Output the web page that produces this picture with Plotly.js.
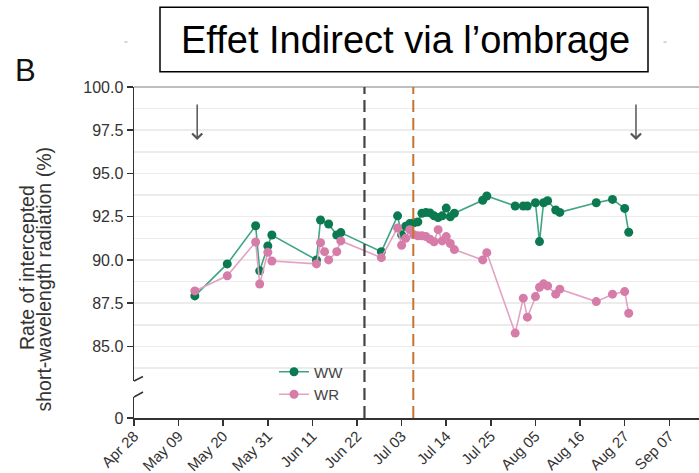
<!DOCTYPE html>
<html><head><meta charset="utf-8">
<script src="https://cdn.plot.ly/plotly-3.0.1.min.js"></script>
<style>html,body{margin:0;padding:0;background:#fff}#chart{width:699px;height:473px}</style>
</head><body><div id="chart"></div>
<script>
// ---- data ----
const datesWW = ['2021-05-13','2021-05-21','2021-05-28','2021-05-29','2021-05-31','2021-06-01',
  '2021-06-12','2021-06-13','2021-06-15','2021-06-17','2021-06-18','2021-06-28',
  '2021-07-02','2021-07-03','2021-07-04','2021-07-05','2021-07-06','2021-07-07','2021-07-08',
  '2021-07-09','2021-07-10','2021-07-11','2021-07-12','2021-07-13','2021-07-14','2021-07-15','2021-07-16',
  '2021-07-23','2021-07-24','2021-07-31','2021-08-02','2021-08-03','2021-08-05','2021-08-06',
  '2021-08-07','2021-08-08','2021-08-10','2021-08-11','2021-08-20','2021-08-24','2021-08-27','2021-08-28'];
const valuesWW = [87.92,89.77,91.98,89.37,90.81,91.44,
  90.00,92.31,92.08,91.44,91.58,90.48,
  92.55,91.45,91.95,92.10,92.15,92.20,92.70,
  92.75,92.72,92.55,92.45,92.55,93.00,92.50,92.70,
  93.45,93.70,93.12,93.12,93.12,93.31,91.06,
  93.31,93.42,92.89,92.75,93.31,93.50,92.98,91.60];
const datesWR = ['2021-05-13','2021-05-21','2021-05-28','2021-05-29','2021-05-31','2021-06-01',
  '2021-06-12','2021-06-13','2021-06-14','2021-06-15','2021-06-17','2021-06-18','2021-06-28',
  '2021-07-02','2021-07-03','2021-07-04','2021-07-05','2021-07-06','2021-07-07','2021-07-08',
  '2021-07-09','2021-07-10','2021-07-11','2021-07-12','2021-07-13','2021-07-14','2021-07-15','2021-07-16',
  '2021-07-23','2021-07-24','2021-07-31','2021-08-02','2021-08-03','2021-08-05','2021-08-06',
  '2021-08-07','2021-08-08','2021-08-10','2021-08-11','2021-08-20','2021-08-24','2021-08-27','2021-08-28'];
const valuesWR = [88.21,89.08,91.04,88.61,90.44,89.94,
  89.77,91.00,90.48,90.00,90.48,91.10,90.13,
  91.85,90.85,91.25,91.75,91.45,91.40,91.40,
  91.35,91.20,91.05,91.75,91.10,91.35,90.95,90.60,
  90.00,90.42,85.77,87.79,86.69,87.88,88.42,
  88.62,88.50,88.02,88.31,87.59,88.02,88.17,86.92];
const seriesNames = ['WW','WR'];
const eventDates = ['2021-06-23 20:00','2021-07-05 21:00'];
const arrowDates = ['2021-05-13 14:00','2021-08-29 19:00'];
const xRange = ['2021-04-28','2021-09-14 08:00'];
const yRangeUpper = [83.0, 100];
const yRangeLower = [0, 1];
const titleText = 'Effet Indirect via l’ombrage';
const panelLabel = 'B';
const yTitleLines = ['Rate of intercepted','short-wavelength radiation (%)'];

// ---- geometry helpers ----
const W=699,H=473,L=134,R=0,T=87,B=55;
const pw=W-L-R, ph=H-T-B;
const px = x => (x-L)/pw;
const py = y => (H-B-y)/ph;

const FONT = 'Liberation Sans, Arial, Helvetica, sans-serif';
const greenM='#0b7a50', greenL='#3da585', pinkM='#d67ca8', pinkL='#e3a1c3';

const traces = [
  {x:datesWW, y:valuesWW, name:seriesNames[0], type:'scatter', mode:'lines+markers',
   line:{color:greenL,width:1.6}, marker:{color:greenM,size:9}},
  {x:datesWR, y:valuesWR, name:seriesNames[1], type:'scatter', mode:'lines+markers',
   line:{color:pinkL,width:1.6}, marker:{color:pinkM,size:9}},
  // invisible carrier so the lower (broken) axis segment is drawn
  {x:[xRange[0]], y:[yRangeLower[0]], xaxis:'x', yaxis:'y2', type:'scatter', mode:'markers',
   marker:{opacity:0,size:1}, showlegend:false, hoverinfo:'skip'}
];

const shapes = [
  {type:'line',xref:'paper',yref:'paper',x0:0,x1:1,y0:1,y1:1,line:{color:'#a8a8a8',width:1.5}},
  {type:'line',xref:'x',yref:'paper',x0:eventDates[0],x1:eventDates[0],y0:0,y1:1,
   line:{color:'#444',width:2.2,dash:'12px,6px'}},
  {type:'line',xref:'x',yref:'paper',x0:eventDates[1],x1:eventDates[1],y0:0,y1:1,
   line:{color:'#c8742c',width:2,dash:'12px,6px'}},
  {type:'path',xref:'paper',yref:'paper',
   path:`M ${px(134)} ${py(381)} L ${px(143)} ${py(376.5)}`,line:{color:'#333',width:1.5}},
  {type:'path',xref:'paper',yref:'paper',
   path:`M ${px(134)} ${py(397)} L ${px(143)} ${py(392)}`,line:{color:'#333',width:1.5}},
  {type:'rect',xref:'paper',yref:'paper',x0:px(160),x1:px(648),y0:py(71.7),y1:py(7.3),
   line:{color:'#000',width:1.5}},
  {type:'line',xref:'paper',yref:'paper',x0:px(124.5),x1:px(127.5),y0:py(42),y1:py(42),line:{color:'#aaa',width:1}},
  {type:'line',xref:'paper',yref:'paper',x0:px(663.5),x1:px(666.5),y0:py(42),y1:py(42),line:{color:'#aaa',width:1}}
];

const annotations = [
  {text:titleText,xref:'paper',yref:'paper',x:px(405),y:py(40),xanchor:'center',yanchor:'middle',
   showarrow:false,font:{family:FONT,size:38,color:'#000'}},
  {text:panelLabel,xref:'paper',yref:'paper',x:px(25),y:py(70),xanchor:'center',yanchor:'middle',
   showarrow:false,font:{family:FONT,size:31,color:'#111'}},
  {text:yTitleLines[0],xref:'paper',yref:'paper',x:px(27),y:py(268),xanchor:'center',yanchor:'middle',
   textangle:-90,showarrow:false,font:{family:FONT,size:19.5,color:'#333'}},
  {text:yTitleLines[1],xref:'paper',yref:'paper',x:px(43.5),y:py(280),xanchor:'center',yanchor:'middle',
   textangle:-90,showarrow:false,font:{family:FONT,size:19.5,color:'#333'}},
  {text:'',x:arrowDates[0],y:96.93,xref:'x',yref:'y',showarrow:true,ax:0,ay:-37,
   arrowhead:4,arrowsize:1.3,arrowwidth:1.5,arrowcolor:'#555',standoff:0},
  {text:'',x:arrowDates[1],y:96.93,xref:'x',yref:'y',showarrow:true,ax:0,ay:-37,
   arrowhead:4,arrowsize:1.3,arrowwidth:1.5,arrowcolor:'#555',standoff:0}
];

const layout = {
  width:W,height:H,margin:{l:L,r:R,t:T,b:B,pad:0},
  paper_bgcolor:'#fff',plot_bgcolor:'#fff',
  font:{family:FONT,size:16,color:'#333'},
  showlegend:true,
  legend:{x:px(274),y:py(383),xanchor:'left',yanchor:'middle',bgcolor:'rgba(0,0,0,0)',
    font:{family:FONT,size:15,color:'#444'},tracegroupgap:0},
  xaxis:{type:'date',range:xRange,anchor:'y2',tick0:'2021-04-28',dtick:11*86400000,
    tickformat:'%b %d',tickangle:-45,ticks:'outside',ticklen:6,tickwidth:1.5,tickcolor:'#333',
    ticklabelstandoff:-4,
    showline:true,linecolor:'#333',linewidth:1.5,showgrid:false,zeroline:false,
    tickfont:{family:FONT,size:15,color:'#333'}},
  yaxis:{domain:[py(381),1],range:yRangeUpper,anchor:'x',tick0:0,dtick:2.5,tickformat:'.1f',
    ticks:'outside',ticklen:6,tickwidth:1.5,tickcolor:'#333',showline:true,linecolor:'#333',linewidth:1.5,
    showgrid:true,gridcolor:'#ececec',gridwidth:1.5,zeroline:false,
    minor:{tick0:0,dtick:1.25,showgrid:true,gridcolor:'#ececec',gridwidth:1.5,ticks:''},
    tickfont:{family:FONT,size:16,color:'#333'}},
  yaxis2:{domain:[0,py(396.7)],range:yRangeLower,anchor:'x',tickvals:[0],ticktext:['0'],
    ticks:'outside',ticklen:6,tickwidth:1.5,tickcolor:'#333',showline:true,linecolor:'#333',linewidth:1.5,
    showgrid:false,zeroline:false,
    minor:{tickmode:'array',tickvals:[1],showgrid:true,gridcolor:'#ececec',gridwidth:1.5,ticks:''},
    tickfont:{family:FONT,size:16,color:'#333'}},
  shapes:shapes,annotations:annotations
};

Plotly.newPlot('chart',traces,layout,{staticPlot:true,displayModeBar:false});
</script></body></html>
